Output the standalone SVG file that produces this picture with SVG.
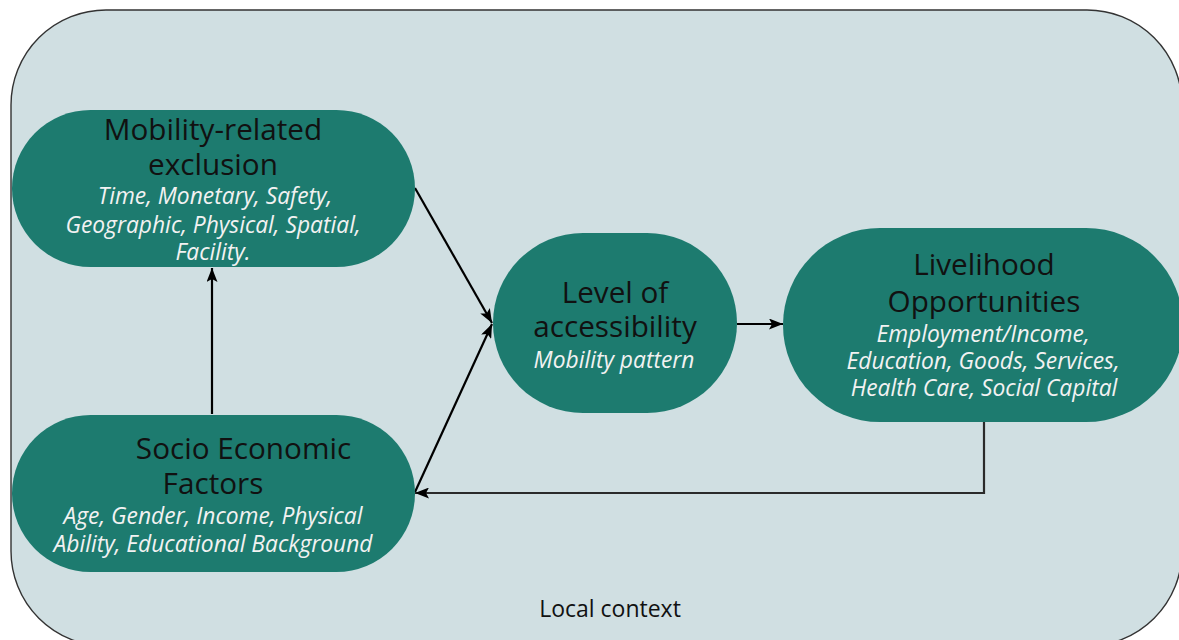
<svg xmlns="http://www.w3.org/2000/svg" width="1179" height="640" viewBox="0 0 1179 640">
  <defs>
    <style>
      .frame { fill: #d0dfe2; stroke: #333333; stroke-width: 1.4; }
      .pill { fill: #1d7b6f; }
      .head { font-family: "Open Sans", "Liberation Sans", sans-serif; font-size: 29.7px; fill: #111111; text-anchor: middle; }
      .sub { font-family: "Open Sans", "Liberation Sans", sans-serif; font-size: 22.8px; font-style: italic; fill: #f2f2f2; text-anchor: middle; }
      .note { font-family: "Open Sans", "Liberation Sans", sans-serif; font-size: 23px; fill: #111111; text-anchor: middle; }
      .link { fill: none; stroke: #000000; stroke-width: 2.2; }
      .feedback { fill: none; stroke: #2a2a2a; stroke-width: 2.2; }
    </style>
    <marker id="arrow" viewBox="0 0 14 11" refX="14" refY="5.5" markerWidth="14" markerHeight="11" markerUnits="userSpaceOnUse" orient="auto">
      <path d="M0,0 L14,5.5 L0,11 L3,5.5 z" fill="#000000"/>
    </marker>
  </defs>

  <!-- outer context boundary -->
  <rect class="frame" x="11" y="10" width="1171" height="636" rx="95" ry="95"/>
  <text class="note" x="610" y="617">Local context</text>

  <!-- connectors -->
  <g id="connectors">
    <line class="link" x1="415" y1="188" x2="492" y2="323" marker-end="url(#arrow)"/>
    <line class="link" x1="415" y1="492" x2="492" y2="324" marker-end="url(#arrow)"/>
    <line class="link" x1="212" y1="414" x2="212" y2="268" marker-end="url(#arrow)"/>
    <line class="link" x1="737" y1="324" x2="783" y2="324" marker-end="url(#arrow)"/>
    <polyline class="feedback" points="984,422 984,493 415,493" marker-end="url(#arrow)"/>
  </g>

  <g id="mobility-exclusion">
    <rect class="pill" x="12" y="110" width="403" height="157" rx="78.5" ry="78.5"/>
    <text class="head" x="213" y="140">Mobility-related</text>
    <text class="head" x="213" y="175">exclusion</text>
    <text class="sub" x="215" y="204">Time, Monetary, Safety,</text>
    <text class="sub" x="213" y="233">Geographic, Physical, Spatial,</text>
    <text class="sub" x="213" y="260">Facility.</text>
  </g>

  <g id="socio-economic">
    <rect class="pill" x="12" y="415" width="403" height="157" rx="78.5" ry="78.5"/>
    <text class="head" x="243.5" y="459">Socio Economic</text>
    <text class="head" x="213" y="494">Factors</text>
    <text class="sub" x="213" y="524">Age, Gender, Income, Physical</text>
    <text class="sub" x="213" y="552">Ability, Educational Background</text>
  </g>

  <g id="accessibility">
    <rect class="pill" x="493" y="233" width="244" height="180" rx="90" ry="90"/>
    <text class="head" x="615" y="303">Level of</text>
    <text class="head" x="615" y="337">accessibility</text>
    <text class="sub" x="614" y="368">Mobility pattern</text>
  </g>

  <g id="livelihood">
    <rect class="pill" x="783" y="228" width="400" height="194" rx="97" ry="97"/>
    <text class="head" x="984" y="275">Livelihood</text>
    <text class="head" x="984" y="312">Opportunities</text>
    <text class="sub" x="983" y="342">Employment/Income,</text>
    <text class="sub" x="983" y="369">Education, Goods, Services,</text>
    <text class="sub" x="984" y="396">Health Care, Social Capital</text>
  </g>
</svg>
